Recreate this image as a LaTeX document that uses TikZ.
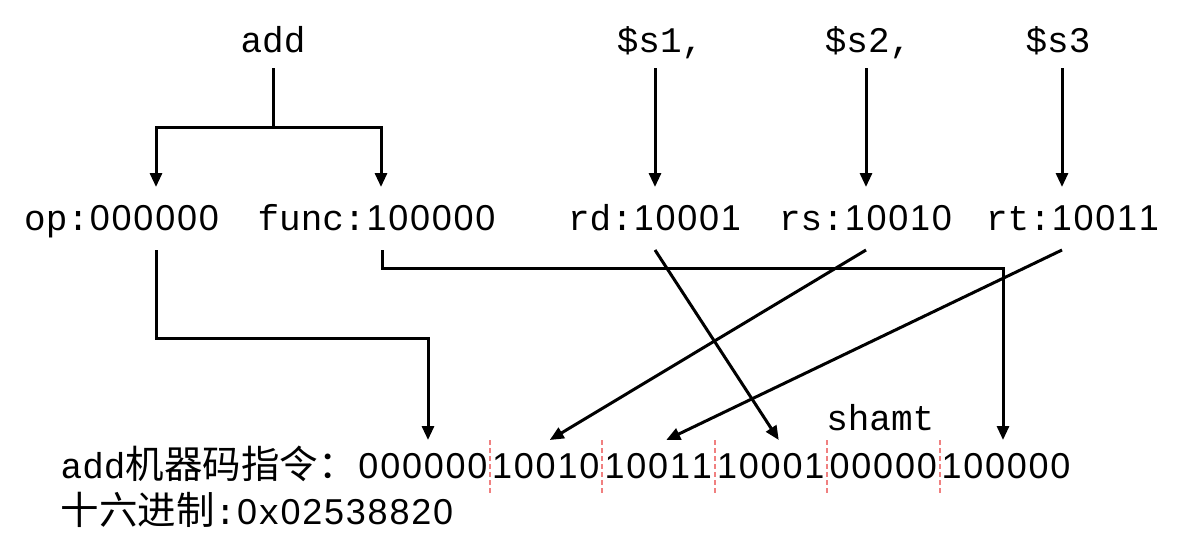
\documentclass[tikz,border=0pt]{standalone}
\usepackage{fontspec}
\setmainfont{Liberation Mono}
\newfontfamily\cjk{Noto Sans CJK SC}
\newfontfamily\digitfont{Liberation Sans}
\usetikzlibrary{arrows.meta,positioning,calc}
\definecolor{cutred}{RGB}{240,128,128}
\newcommand{\dg}[1]{\dgloop#1\relax}
\def\dgloop#1{\ifx#1\relax\else\makebox[21.8pt]{\digitfont#1}\expandafter\dgloop\fi}
\newcommand{\hz}[1]{{\cjk\fontsize{38.5pt}{40pt}\selectfont #1}}

\begin{document}
\begin{tikzpicture}[x=1pt,y=-1pt,>={Triangle[length=14pt,width=12pt]},line width=3pt]
    \tikzstyle{word}=[font=\fontsize{36pt}{40pt}\selectfont, inner sep=0pt, outer sep=0pt]
    \tikzstyle{top}=[word, anchor=base, text depth=0pt, inner ysep=16pt]
    \tikzstyle{reg}=[word, anchor=base, text height=27pt, text depth=4pt, inner ysep=16pt]
    \tikzstyle{field}=[word, text height=27pt, text depth=6pt, inner ysep=11pt, minimum width=112.5pt]
    \tikzstyle{cut}=[cutred, line width=2pt, dash pattern=on 5pt off 3pt]
    \useasboundingbox (0,0) rectangle (1188,557);

    % Assembly words
    \node[top] (add) at (273,52) {add};
    \node[top] (s1) at (660,52) {\$s1,};
    \node[top] (s2) at (868,52) {\$s2,};
    \node[top] (s3) at (1058,52) {\$s3};

    % Decoded fields
    \node[reg] (op) at (122,230) {op:\dg{000000}};
    \node[reg] (func) at (377,230) {func:\dg{100000}};
    \node[reg] (rd) at (655,230) {rd:\dg{10001}};
    \node[reg] (rs) at (866,230) {rs:\dg{10010}};
    \node[reg] (rt) at (1073,230) {rt:\dg{10011}};

    % Machine code row
    \node[field, anchor=base, minimum width=133pt] (f1) at (423,478) {\dg{000000}};
    \node[field, right=0pt of f1] (f2) {\dg{10010}};
    \node[field, right=0pt of f2] (f3) {\dg{10011}};
    \node[field, right=0pt of f3] (f4) {\dg{10001}};
    \node[field, right=0pt of f4] (f5) {\dg{00000}};
    \node[field, right=0pt of f5, minimum width=133pt] (f6) {\dg{100000}};
    \node[word, anchor=base east] (code) at (f1.base west) {add\hz{机器码指令：}};
    \node[word, anchor=base west] (hex) at ([yshift=-46pt]code.base west) {\hz{十六进制}:\dg{0}x\dg{02538820}};
    \node[word, anchor=base] (shamt) at ([xshift=-3pt,yshift=10pt]f5.north) {shamt};

    % Field separators
    \foreach \f in {f1,f2,f3,f4,f5}
        \draw[cut] (\f.north east) -- (\f.south east);

    % add splits into op and func
    \draw (add.south) -- ++(0,59) coordinate (fork);
    \draw[->] (fork) -| ([xshift=34pt]op.north);
    \draw[->] (fork) -| ([xshift=4pt]func.north);

    % Registers
    \draw[->] (s1.south -| rd.north) -- (rd.north);
    \draw[->] (s2.south -| rs.north) -- (rs.north);
    \draw[->] ([xshift=4pt]s3.south) -- ([xshift=4pt]s3.south |- rt.north);

    % Into the machine code
    \draw[->] ([xshift=34pt]op.south) -- ++(0,88) -| ([xshift=5pt]f1.north);
    \draw[->] ([xshift=5pt]func.south) -- ++(0,18) -| ([xshift=-3pt]f6.north);
    \draw[->] (rd.south) -- ([xshift=8pt]f4.north);
    \draw[->] (rs.south) -- ([xshift=4pt]f2.north);
    \draw[->] ([xshift=-11pt]rt.south) -- ([xshift=8pt]f3.north);
\end{tikzpicture}
\end{document}
